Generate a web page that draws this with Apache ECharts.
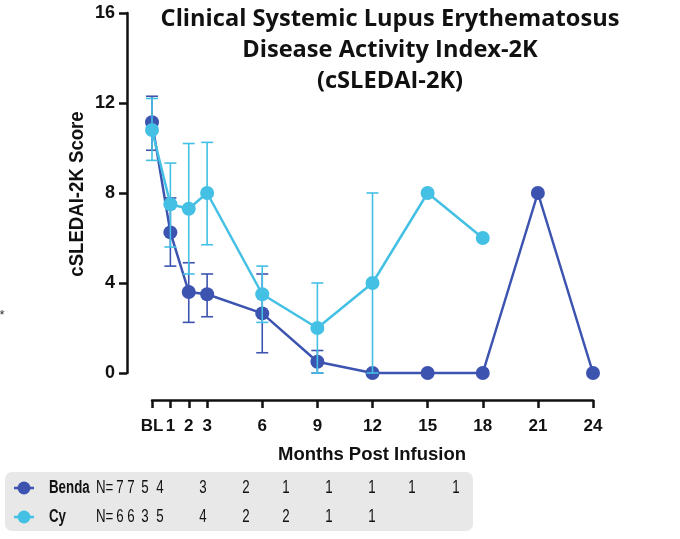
<!DOCTYPE html>
<html><head><meta charset="utf-8">
<script src="https://cdn.jsdelivr.net/npm/echarts@6/dist/echarts.min.js"></script>
<style>html,body{margin:0;padding:0;background:#fff}#c{width:680px;height:539px}</style>
</head><body><div id="c"></div>
<script>
// ---- data ----
const months = [0, 1, 2, 3, 6, 9, 12, 15, 18, 21, 24];
const xTickLabels = ['BL', '1', '2', '3', '6', '9', '12', '15', '18', '21', '24'];
const bendaMean = [11.15, 6.25, 3.6, 3.5, 2.65, 0.5, 0, 0, 0, 8, 0];
const bendaLow  = [9.9, 4.75, 2.25, 2.5, 0.9, 0.0];
const bendaHigh = [12.3, 7.78, 4.9, 4.4, 4.4, 1.0];
const cyMonths = [0, 1, 2, 3, 6, 9, 12, 15, 18];
const cyMean = [10.8, 7.5, 7.3, 8.0, 3.5, 2.0, 4.0, 8.0, 6.0];
const cyLow  = [9.45, 5.6, 4.4, 5.7, 2.25, 0, 0];
const cyHigh = [12.2, 9.33, 10.2, 10.25, 4.75, 4.0, 8.0];
const bendaN = [7, 7, 5, 4, 3, 2, 1, 1, 1, 1, 1];
const cyN = [6, 6, 3, 5, 4, 2, 2, 1, 1];
const seriesNames = ['Benda', 'Cy'];
const titleLines = ['Clinical Systemic Lupus Erythematosus', 'Disease Activity Index-2K', '(cSLEDAI-2K)'];
const yAxisName = 'cSLEDAI-2K Score';
const xAxisName = 'Months Post Infusion';

// ---- style ----
const C_BENDA = '#3c54b0';
const C_CY = '#44c0e4';
const FONT = '"Liberation Sans", Arial, sans-serif';
const TFONT = '"Open Sans", "Liberation Sans", sans-serif';

const chart = echarts.init(document.getElementById('c'), null, {renderer: 'canvas'});

function errData(xs, lo, hi) {
  return lo.map((l, i) => [xs[i], l, hi[i]]);
}
function errSeries(data, color, z) {
  return {
    type: 'custom',
    data: data,
    z: z,
    clip: false,
    renderItem: function (params, api) {
      const x = api.value(0);
      const p1 = api.coord([x, api.value(1)]);
      const p2 = api.coord([x, api.value(2)]);
      const hw = 6;
      const st = {stroke: color, lineWidth: 1.6};
      return {
        type: 'group',
        children: [
          {type: 'line', shape: {x1: p1[0], y1: p1[1], x2: p2[0], y2: p2[1]}, style: st},
          {type: 'line', shape: {x1: p1[0] - hw, y1: p1[1], x2: p1[0] + hw, y2: p1[1]}, style: st},
          {type: 'line', shape: {x1: p2[0] - hw, y1: p2[1], x2: p2[0] + hw, y2: p2[1]}, style: st}
        ]
      };
    }
  };
}

const tableX = [120, 131, 145, 160, 203, 246, 286, 329, 372, 412, 456];
const rowY = [488, 517];
const SX = 0.76;
const graphics = [];
titleLines.forEach((t, i) => {
  graphics.push({type: 'text', x: 390, y: 20 + i * 31, scaleX: 1.05,
    style: {text: t, fill: '#111', font: '700 22.5px ' + TFONT, align: 'center', verticalAlign: 'middle'}});
});
graphics.push({type: 'text', x: 77, y: 194, rotation: Math.PI / 2, scaleX: 0.93,
  style: {text: yAxisName, fill: '#111', font: 'bold 20px ' + FONT, align: 'center', verticalAlign: 'middle'}});
graphics.push({type: 'text', x: 372, y: 455,
  style: {text: xAxisName, fill: '#111', font: 'bold 18.5px ' + FONT, align: 'center', verticalAlign: 'middle'}});
graphics.push({type: 'text', x: 2, y: 315,
  style: {text: '*', fill: '#333', font: '13px ' + FONT, align: 'center', verticalAlign: 'middle'}});
graphics.push({type: 'rect', shape: {x: 5, y: 472, width: 468, height: 59, r: 7},
  style: {fill: '#e8e8e8'}, z: 0});
[[C_BENDA, bendaN], [C_CY, cyN]].forEach((row, r) => {
  const y = rowY[r];
  graphics.push({type: 'line', shape: {x1: 14, y1: y, x2: 34, y2: y}, style: {stroke: row[0], lineWidth: 2.5}, z: 2});
  graphics.push({type: 'circle', shape: {cx: 24, cy: y, r: 6.5}, style: {fill: row[0]}, z: 2});
  graphics.push({type: 'text', x: 49, y: y, z: 2, scaleX: SX,
    style: {text: seriesNames[r], fill: '#111', font: 'bold 17.5px ' + FONT, verticalAlign: 'middle'}});
  graphics.push({type: 'text', x: 96, y: y, z: 2, scaleX: SX,
    style: {text: 'N=', fill: '#111', font: '17.5px ' + FONT, verticalAlign: 'middle'}});
  row[1].forEach((n, i) => {
    graphics.push({type: 'text', x: tableX[i], y: y, z: 2, scaleX: SX,
      style: {text: String(n), fill: '#111', font: '17.5px ' + FONT, align: 'center', verticalAlign: 'middle'}});
  });
});

const option = {
  animation: false,
  backgroundColor: '#fff',
  grid: {left: 152, right: 87, top: 13, bottom: 166, containLabel: false},
  xAxis: {
    type: 'value', min: 0, max: 24, offset: 27,
    splitLine: {show: false},
    axisLine: {show: true, onZero: false, lineStyle: {color: '#111', width: 2.5}},
    axisTick: {show: true, customValues: months, length: 8, lineStyle: {color: '#111', width: 2.5}},
    axisLabel: {show: true, customValues: months, margin: 18, color: '#111',
      fontSize: 17, fontWeight: 'bold', fontFamily: FONT,
      formatter: function (v) { const i = months.indexOf(v); return i >= 0 ? xTickLabels[i] : ''; }}
  },
  yAxis: {
    type: 'value', min: 0, max: 16, interval: 4, offset: 25,
    splitLine: {show: false},
    axisLine: {show: true, onZero: false, lineStyle: {color: '#111', width: 2.5}},
    axisTick: {show: true, length: 8, lineStyle: {color: '#111', width: 2.5}},
    axisLabel: {margin: 12, color: '#111', fontSize: 18, fontWeight: 'bold', fontFamily: FONT}
  },
  series: [
    errSeries(errData(months, bendaLow, bendaHigh), C_BENDA, 1),
    {type: 'line', name: seriesNames[0], data: months.map((m, i) => [m, bendaMean[i]]),
      z: 2, symbol: 'circle', symbolSize: 14, clip: false,
      lineStyle: {color: C_BENDA, width: 2.5}, itemStyle: {color: C_BENDA}},
    errSeries(errData(cyMonths, cyLow, cyHigh), C_CY, 3),
    {type: 'line', name: seriesNames[1], data: cyMonths.map((m, i) => [m, cyMean[i]]),
      z: 4, symbol: 'circle', symbolSize: 14, clip: false,
      lineStyle: {color: C_CY, width: 2.5}, itemStyle: {color: C_CY}}
  ],
  graphic: graphics
};
chart.setOption(option);
</script></body></html>
